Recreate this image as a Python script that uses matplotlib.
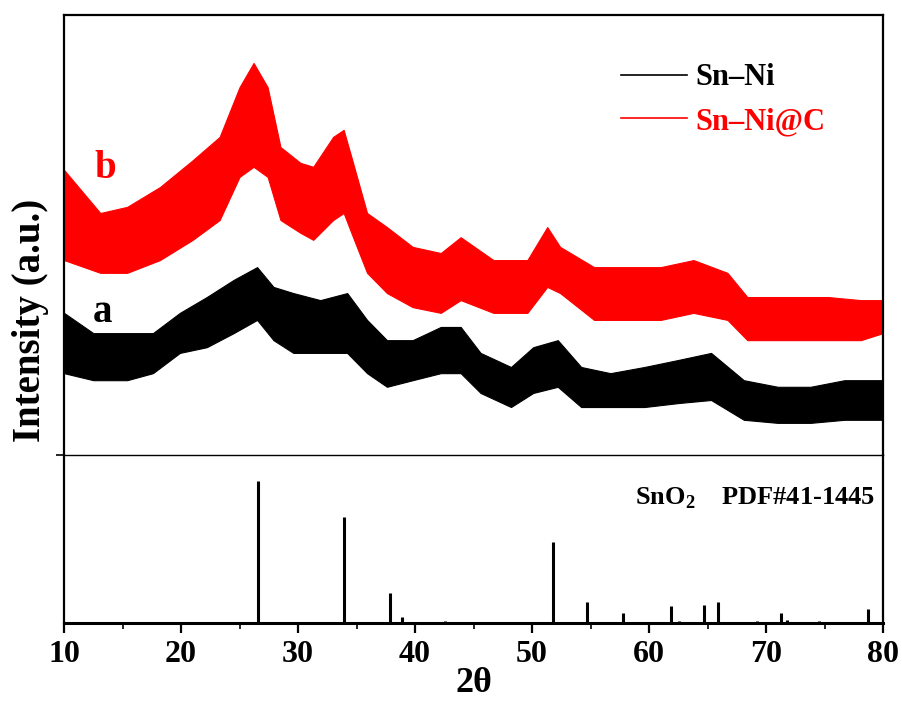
import numpy as np
import matplotlib
matplotlib.use('Agg')
import matplotlib.pyplot as plt
from matplotlib.lines import Line2D

plt.rcParams['font.family'] = 'Liberation Serif'
plt.rcParams['font.weight'] = 'bold'
plt.rcParams['mathtext.fontset'] = 'custom'
plt.rcParams['mathtext.rm'] = 'Liberation Serif:bold'
plt.rcParams['mathtext.bf'] = 'Liberation Serif:bold'

# ---- data ----
# Sn-Ni@C (curve b): 2theta and band of the noisy trace (low / high)
b_theta = [10.0, 13.1, 15.4, 18.2, 21.0, 23.3, 25.0, 26.2, 27.4, 28.5, 30.2, 31.3,
           33.0, 33.9, 34.7, 35.9, 37.6, 39.8, 42.2, 43.9, 46.7, 49.6, 51.3, 52.4,
           55.3, 58.2, 61.0, 63.8, 66.7, 68.4, 72.4, 75.3, 78.1, 80.0]
b_low = [44.3, 41.4, 41.4, 44.3, 48.9, 53.4, 63.2, 65.5, 63.2, 53.4, 50.5, 48.9,
         53.4, 55.0, 49.5, 41.4, 36.8, 33.6, 32.3, 35.2, 32.3, 32.3, 38.2, 36.8,
         30.7, 30.7, 30.7, 32.3, 30.7, 26.1, 26.1, 26.1, 26.1, 27.7]
b_high = [64.8, 55.0, 56.4, 60.9, 67.0, 72.3, 83.6, 89.1, 83.6, 70.0, 66.4, 65.5,
          72.3, 73.9, 66.4, 55.0, 51.8, 47.3, 45.9, 49.5, 44.3, 44.3, 51.8, 47.3,
          42.7, 42.7, 42.7, 44.3, 41.4, 35.9, 35.9, 35.9, 35.2, 35.2]

# Sn-Ni (curve a)
a_theta = [10.0, 12.5, 15.4, 17.6, 19.9, 22.2, 24.5, 26.5, 27.9, 29.6, 31.9, 34.2,
           35.9, 37.6, 39.8, 42.2, 43.9, 45.6, 48.2, 50.1, 52.2, 54.2, 56.7, 59.6,
           62.5, 65.3, 68.1, 71.0, 73.8, 76.7, 80.0]
a_low = [18.6, 17.0, 17.0, 18.6, 23.2, 24.5, 27.7, 30.7, 26.1, 23.2, 23.2, 23.2,
         18.6, 15.5, 17.0, 18.6, 18.6, 14.1, 10.9, 14.1, 15.5, 10.9, 10.9, 10.9,
         11.8, 12.5, 8.0, 7.3, 7.3, 8.0, 8.0]
a_high = [32.3, 27.7, 27.7, 27.7, 32.3, 35.9, 39.8, 42.7, 38.2, 36.8, 35.2, 36.8,
          30.7, 26.1, 26.1, 29.1, 29.1, 23.2, 20.0, 24.5, 26.1, 20.0, 18.6, 20.0,
          21.6, 23.2, 17.0, 15.5, 15.5, 17.0, 17.0]

# SnO2 reference pattern PDF#41-1445
ref_theta = [26.6, 33.9, 37.9, 38.9, 42.6, 51.8, 54.7, 57.8, 61.9, 62.6, 64.7, 65.9,
             69.2, 71.3, 71.8, 74.5, 78.7]
ref_int = [100, 75, 21, 4, 1.5, 57, 15, 7, 12, 1.5, 13, 15, 1.5, 7, 2, 1.5, 10]

series_labels = ['Sn\u2013Ni', 'Sn\u2013Ni@C']
series_colors = ['black', 'red']

fig = plt.figure(figsize=(9.03, 7.04), dpi=100)
ax1 = fig.add_axes([0.0709, 0.3537, 0.907, 0.625])
ax2 = fig.add_axes([0.0709, 0.1151, 0.907, 0.2386], sharex=ax1)

ax1.fill_between(a_theta, a_low, a_high, color=series_colors[0], lw=0.8)
ax1.fill_between(b_theta, b_low, b_high, color=series_colors[1], lw=0.8)
ax1.set_ylim(0, 100)
ax1.set_xlim(10, 80)
ax1.set_yticks([])
ax1.tick_params(axis='x', which='both', bottom=False, labelbottom=False)
ax1.spines['bottom'].set_visible(False)
for s in ['top', 'left', 'right']:
    ax1.spines[s].set_linewidth(1.6)

ax1.text(13.5, 63, 'b', color='red', fontsize=28, fontweight='bold', ha='center', va='baseline')
ax1.text(13.3, 30.2, 'a', color='black', fontsize=28, fontweight='bold', ha='center', va='baseline')

handles = [Line2D([], [], color=c, lw=1.2) for c in series_colors]
leg = ax1.legend(handles, series_labels, loc='upper left', bbox_to_anchor=(0.68, 0.89),
                 frameon=False, borderpad=0, borderaxespad=0, handlelength=2.15,
                 handletextpad=0.3, labelspacing=0.48,
                 prop={'family': 'Liberation Serif', 'weight': 'bold', 'size': 22})
for t, c in zip(leg.get_texts(), series_colors):
    t.set_color(c)

# reference sticks
ax2.vlines(ref_theta, 0, ref_int, color='black', lw=2.2)
ax2.set_ylim(0, 118.4)
ax2.set_xlim(10, 80)
ax2.set_yticks([118.4])
ax2.set_yticklabels([])
ax2.tick_params(axis='y', direction='out', length=6, width=1.2)
ax2.set_xticks(np.arange(10, 81, 10))
ax2.set_xticks(np.arange(15, 80, 10), minor=True)
ax2.tick_params(axis='x', which='major', direction='out', length=7, width=1.6, pad=5, labelsize=23)
ax2.tick_params(axis='x', which='minor', direction='out', length=4, width=1.2)
ax2.spines['top'].set_linewidth(1.0)
for s in ['bottom', 'left', 'right']:
    ax2.spines[s].set_linewidth(1.6)
ax2.spines['bottom'].set_linewidth(2.2)
ax2.set_xlabel('2\u03b8', fontsize=26, fontweight='bold', labelpad=-1)
ax2.text(0.99, 0.74, 'SnO$_\\mathbf{2}$    PDF#41-1445', transform=ax2.transAxes,
         ha='right', va='center', fontsize=19, fontweight='bold')

fig.text(31 / 903, 1 - 320 / 704, 'Intensity (a.u.)', rotation=90, ha='center', va='center',
         fontsize=28, fontweight='bold')

fig.savefig('out.png', dpi=100)
